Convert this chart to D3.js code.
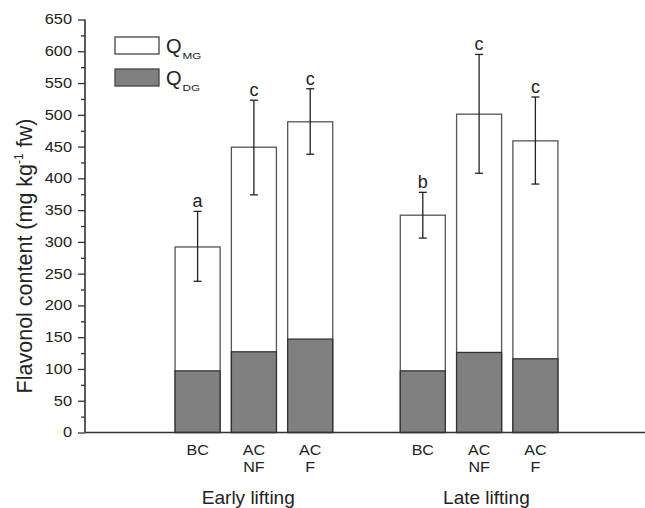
<!DOCTYPE html>
<html>
<head>
<meta charset="utf-8">
<script src="https://cdn.jsdelivr.net/npm/d3@7"></script>
<style>
  body { margin: 0; background: #fff; }
  svg { font-family: "Liberation Sans", Arial, sans-serif; }
</style>
</head>
<body>
<div class="chart"></div>
<script>
'use strict';

// bar categories, two lines each
var categories = [['BC'], ['AC', 'NF'], ['AC', 'F'], ['BC'], ['AC', 'NF'], ['AC', 'F']];
var positions = [1, 2, 3, 5, 6, 7];
var groups = ['Early lifting', 'Late lifting'];
var groupPos = [1.9, 6.13];

// stacked values: QDG (bottom) and total (QDG + QMG)
var qdg = [97, 127, 147, 97, 126, 116];
var total = [292, 449, 489, 342, 501, 459];
var errHigh = [348, 523, 541, 378, 595, 528];
var errLow = [238, 374, 438, 306, 408, 391];
var letters = ['a', 'c', 'c', 'b', 'c', 'c'];

var yTicks = d3.range(0, 651, 50);
var yMinorTicks = d3.range(25, 650, 50);

var width = 645;
var height = 508;
var ink = '#222';

var x = d3.scaleLinear().domain([-1, 9]).range([85, 648]);
var y = d3.scaleLinear().domain([0, 650]).range([432.5, 19.5]);
var barW = x(0.8) - x(0);

var svg = d3.select('.chart').append('svg').attr('width', width).attr('height', height);

// text that is a bit wider than the font draws it
var label = function label(px, py, str, size, sx, anchor) {
  return svg.append('g').attr('transform', 'translate(' + px + ',' + py + ') scale(' + sx + ',1)')
    .append('text').attr('text-anchor', anchor || 'middle').attr('font-size', size).attr('fill', ink).text(str);
};

// bars
var bars = svg.append('g').attr('class', 'bars');
positions.forEach(function (p, i) {
  bars.append('rect')
    .attr('x', x(p) - barW / 2).attr('y', y(total[i]))
    .attr('width', barW).attr('height', y(0) - y(total[i]))
    .attr('fill', '#fff').attr('stroke', '#555').attr('stroke-width', 1.3);
  bars.append('rect')
    .attr('x', x(p) - barW / 2).attr('y', y(qdg[i]))
    .attr('width', barW).attr('height', y(0) - y(qdg[i]))
    .attr('fill', '#808080').attr('stroke', '#333').attr('stroke-width', 1.3);
});

// error bars and letters
var err = svg.append('g').attr('class', 'errors').attr('stroke', ink).attr('stroke-width', 1.3);
positions.forEach(function (p, i) {
  var cx = x(p);
  err.append('line').attr('x1', cx).attr('x2', cx).attr('y1', y(errHigh[i])).attr('y2', y(errLow[i]));
  err.append('line').attr('x1', cx - 4).attr('x2', cx + 4).attr('y1', y(errHigh[i])).attr('y2', y(errHigh[i]));
  err.append('line').attr('x1', cx - 4).attr('x2', cx + 4).attr('y1', y(errLow[i])).attr('y2', y(errLow[i]));
  label(cx, y(errHigh[i]) - 4, letters[i], 18, 1);
});

// y axis with minor ticks
var sx = 1.17;
var yAxis = d3.axisLeft(y).tickValues(yTicks).tickSize(7).tickPadding(6);
var gy = svg.append('g').attr('transform', 'translate(' + x(-1) + ',0)').call(yAxis);
gy.select('.domain').remove();
gy.selectAll('text').attr('font-size', 14).attr('fill', ink)
  .attr('font-family', '"Liberation Sans", Arial, sans-serif')
  .attr('x', -13 / sx).attr('transform', 'scale(' + sx + ',1)');
gy.selectAll('line').attr('stroke', '#333').attr('stroke-width', 1.3);
var yMinor = d3.axisLeft(y).tickValues(yMinorTicks).tickSize(4).tickFormat('');
var gm = svg.append('g').attr('transform', 'translate(' + x(-1) + ',0)').call(yMinor);
gm.select('.domain').remove();
gm.selectAll('line').attr('stroke', '#333').attr('stroke-width', 1.3);
svg.append('line').attr('x1', x(-1)).attr('x2', x(-1)).attr('y1', y(650)).attr('y2', y(0))
  .attr('stroke', '#333').attr('stroke-width', 1.6);

// x axis line
svg.append('line').attr('x1', x(-1)).attr('x2', x(9)).attr('y1', y(0)).attr('y2', y(0))
  .attr('stroke', '#333').attr('stroke-width', 1.6);

// category labels
positions.forEach(function (p, i) {
  categories[i].forEach(function (s, k) {
    label(x(p), 455 + k * 16.5, s, 14, 1.15);
  });
});

// group labels
groups.forEach(function (g, i) {
  label(x(groupPos[i]), 504, g, 19, 1);
});

// y title
var yt = svg.append('text').attr('transform', 'translate(32,' + 256 + ') rotate(-90)')
  .attr('text-anchor', 'middle').attr('font-size', 21.5).attr('fill', ink);
yt.append('tspan').text('Flavonol content (mg kg');
yt.append('tspan').attr('font-size', 12).attr('dy', -9).text('-1');
yt.append('tspan').attr('dy', 9).text(' fw)');

// legend
var legend = [{ key: 'MG', fill: '#fff' }, { key: 'DG', fill: '#808080' }];
legend.forEach(function (d, i) {
  var ly = 37 + i * 32;
  svg.append('rect').attr('x', 115).attr('y', ly).attr('width', 44).attr('height', 17)
    .attr('fill', d.fill).attr('stroke', '#444').attr('stroke-width', 1.3);
  label(166, ly + 16, 'Q', 20, 1, 'start');
  label(182.5, ly + 22, d.key, 9, 1.3, 'start');
});
</script>
</body>
</html>
